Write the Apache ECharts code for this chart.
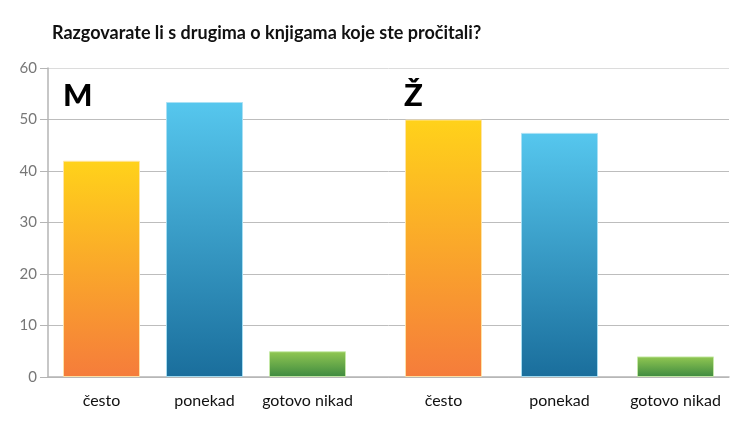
<!DOCTYPE html>
<html><head><meta charset="utf-8">
<script src="https://cdn.jsdelivr.net/npm/echarts@6/dist/echarts.min.js"></script>
<style>html,body{margin:0;padding:0;background:#fff}#c{width:750px;height:429px}</style>
</head><body><div id="c"></div>
<script>
var titleText = 'Razgovarate li s drugima o knjigama koje ste pročitali?';
var categories = ['često', 'ponekad', 'gotovo nikad'];
var groups = ['M', 'Ž'];
var valuesM = [42, 53.4, 5];
var valuesZ = [50, 47.4, 4];
var yTicks = [0, 10, 20, 30, 40, 50, 60];

var gradients = [
  ['#FFD21A', '#F57C3B'],
  ['#56C7EE', '#1A6E9C'],
  ['#92C852', '#3E8A40']
];
var borders = ['rgba(255,230,170,0.9)', 'rgba(170,225,245,0.9)', 'rgba(200,235,170,0.9)'];

function barData(vals) {
  return vals.map(function (v, i) {
    return {
      value: v,
      itemStyle: {
        color: new echarts.graphic.LinearGradient(0, 0, 0, 1, [
          { offset: 0, color: gradients[i][0] },
          { offset: 1, color: gradients[i][1] }
        ]),
        borderColor: borders[i],
        borderWidth: 1
      }
    };
  });
}

var TOP = 68, BOTTOM = 52;
var font = 'Lato, "Open Sans", sans-serif';
var yMax = yTicks[yTicks.length - 1];
var xLabel = { interval: 0, margin: 16, fontFamily: font, fontSize: 16, color: '#111' };

var chart = echarts.init(document.getElementById('c'));
chart.setOption({
  animation: false,
  title: {
    text: titleText, left: 47, top: 19,
    textStyle: { fontFamily: font, fontSize: 18, fontWeight: 'bold', color: '#111' }
  },
  graphic: [
    { type: 'text', left: 63, top: 80, style: { text: groups[0], font: '900 31px ' + font, fill: '#000' } },
    { type: 'text', left: 404, top: 80, style: { text: groups[1], font: '900 31px ' + font, fill: '#000' } }
  ],
  grid: [
    { left: 48, right: 21, top: TOP, bottom: BOTTOM },
    { left: 50, width: 309, top: TOP, bottom: BOTTOM },
    { left: 385.5, width: 348, top: TOP, bottom: BOTTOM }
  ],
  xAxis: [
    { gridIndex: 0, type: 'category', data: [''], axisLine: { lineStyle: { color: '#b5b5b5', width: 1.5 } }, axisTick: { show: false }, axisLabel: { show: false } },
    { gridIndex: 1, type: 'category', data: categories, axisLine: { show: false }, axisTick: { show: false }, axisLabel: xLabel },
    { gridIndex: 2, type: 'category', data: categories, axisLine: { show: false }, axisTick: { show: false }, axisLabel: xLabel }
  ],
  yAxis: [
    { gridIndex: 0, type: 'value', min: 0, max: yMax, interval: 10,
      axisLine: { show: true, lineStyle: { color: '#b5b5b5', width: 1.5 } },
      axisTick: { show: true, length: 8, lineStyle: { color: '#b5b5b5' } },
      axisLabel: { margin: 11, fontFamily: font, fontSize: 15, color: '#777' },
      splitLine: { show: true, lineStyle: { color: ['#bdbdbd', '#bdbdbd', '#bdbdbd', '#bdbdbd', '#bdbdbd', '#bdbdbd', '#dcdcdc'], width: 1 } } },
    { gridIndex: 1, type: 'value', min: 0, max: yMax, show: false },
    { gridIndex: 2, type: 'value', min: 0, max: yMax, show: false }
  ],
  series: [
    { type: 'bar', name: groups[0], xAxisIndex: 1, yAxisIndex: 1, barWidth: 77, data: barData(valuesM) },
    { type: 'bar', name: groups[1], xAxisIndex: 2, yAxisIndex: 2, barWidth: 77, data: barData(valuesZ) }
  ]
});
</script></body></html>
